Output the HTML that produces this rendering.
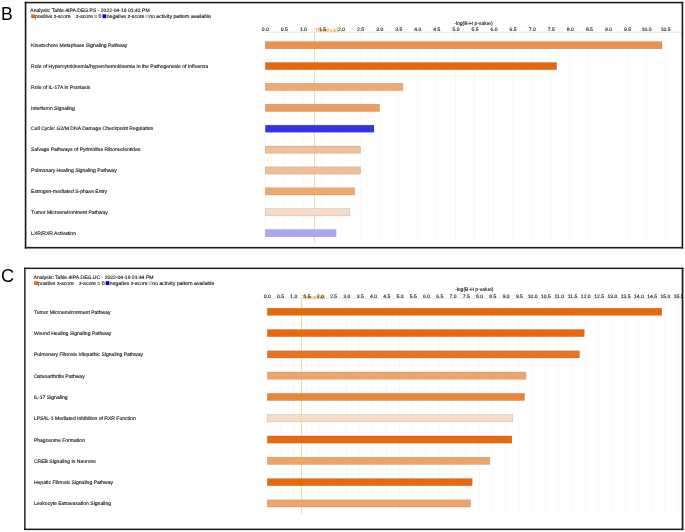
<!DOCTYPE html>
<html><head><meta charset="utf-8"><title>IPA canonical pathways</title><style>
html,body{margin:0;padding:0;background:#fff;width:685px;height:532px;overflow:hidden}
body{position:relative;font-family:'Liberation Sans', sans-serif}
#wrap{position:absolute;left:0;top:0;width:685px;height:532px;will-change:transform;background:#fff}
#wrap div{position:absolute}
#wrap svg{position:absolute;left:0;top:0}
.big{font-size:17.7px;line-height:1;color:#000}
.t{font-size:5.06px;line-height:6px;white-space:nowrap;text-rendering:geometricPrecision;color:#181818;-webkit-text-stroke:0.13px #181818}
.leg{font-size:5.15px}
.tk{width:20px;text-align:center;color:#2a2a2a;-webkit-text-stroke:0.15px #2a2a2a}
.thrt{color:#f4a838;-webkit-text-stroke:0.15px #f4a838;font-size:5.2px}
</style></head>
<body>
<div id="wrap">
<svg width="685" height="532" viewBox="0 0 685 532">
<rect x="31.10" y="14.35" width="3.8" height="3.8" fill="#ea6a08"/>
<rect x="102.50" y="14.35" width="3.7" height="3.8" fill="#0000e6"/>
<rect x="145.10" y="14.35" width="3.9" height="3.8" fill="#cdcdcd"/>
<rect x="264.45" y="32.2" width="0.8" height="210.60" fill="#f7f7f7"/>
<rect x="283.51" y="32.2" width="0.8" height="210.60" fill="#f7f7f7"/>
<rect x="302.58" y="32.2" width="0.8" height="210.60" fill="#f7f7f7"/>
<rect x="321.64" y="32.2" width="0.8" height="210.60" fill="#f7f7f7"/>
<rect x="340.71" y="32.2" width="0.8" height="210.60" fill="#f7f7f7"/>
<rect x="359.77" y="32.2" width="0.8" height="210.60" fill="#f7f7f7"/>
<rect x="378.84" y="32.2" width="0.8" height="210.60" fill="#f7f7f7"/>
<rect x="397.90" y="32.2" width="0.8" height="210.60" fill="#f7f7f7"/>
<rect x="416.97" y="32.2" width="0.8" height="210.60" fill="#f7f7f7"/>
<rect x="436.03" y="32.2" width="0.8" height="210.60" fill="#f7f7f7"/>
<rect x="455.10" y="32.2" width="0.8" height="210.60" fill="#f7f7f7"/>
<rect x="474.16" y="32.2" width="0.8" height="210.60" fill="#f7f7f7"/>
<rect x="493.23" y="32.2" width="0.8" height="210.60" fill="#f7f7f7"/>
<rect x="512.29" y="32.2" width="0.8" height="210.60" fill="#f7f7f7"/>
<rect x="531.36" y="32.2" width="0.8" height="210.60" fill="#f7f7f7"/>
<rect x="550.43" y="32.2" width="0.8" height="210.60" fill="#f7f7f7"/>
<rect x="569.49" y="32.2" width="0.8" height="210.60" fill="#f7f7f7"/>
<rect x="588.55" y="32.2" width="0.8" height="210.60" fill="#f7f7f7"/>
<rect x="607.62" y="32.2" width="0.8" height="210.60" fill="#f7f7f7"/>
<rect x="626.69" y="32.2" width="0.8" height="210.60" fill="#f7f7f7"/>
<rect x="645.75" y="32.2" width="0.8" height="210.60" fill="#f7f7f7"/>
<rect x="664.81" y="32.2" width="0.8" height="210.60" fill="#f7f7f7"/>
<rect x="264.80" y="31.80" width="417.00" height="0.8" fill="#e2e2e2"/>
<rect x="314.07" y="32.20" width="1.0" height="210.60" fill="#f3d8aa"/>
<rect x="265.30" y="41.60" width="396.70" height="7.2" fill="#ee914c" stroke="rgba(100,90,80,0.35)" stroke-width="0.5"/>
<rect x="265.30" y="62.48" width="291.40" height="7.2" fill="#e8660a" stroke="rgba(100,90,80,0.35)" stroke-width="0.5"/>
<rect x="265.30" y="83.36" width="137.60" height="7.2" fill="#f0a870" stroke="rgba(100,90,80,0.35)" stroke-width="0.5"/>
<rect x="265.30" y="104.24" width="114.30" height="7.2" fill="#ee9d5e" stroke="rgba(100,90,80,0.35)" stroke-width="0.5"/>
<rect x="265.30" y="125.12" width="108.70" height="7.2" fill="#3333e6" stroke="rgba(100,90,80,0.35)" stroke-width="0.5"/>
<rect x="265.30" y="146.00" width="95.20" height="7.2" fill="#f3be94" stroke="rgba(100,90,80,0.35)" stroke-width="0.5"/>
<rect x="265.30" y="166.88" width="95.20" height="7.2" fill="#f3be94" stroke="rgba(100,90,80,0.35)" stroke-width="0.5"/>
<rect x="265.30" y="187.76" width="89.30" height="7.2" fill="#f0a86c" stroke="rgba(100,90,80,0.35)" stroke-width="0.5"/>
<rect x="265.30" y="208.64" width="84.60" height="7.2" fill="#f9dcc6" stroke="rgba(100,90,80,0.35)" stroke-width="0.5"/>
<rect x="265.30" y="229.52" width="70.80" height="7.2" fill="#a9a9f2" stroke="rgba(100,90,80,0.35)" stroke-width="0.5"/>
<rect x="34.25" y="281.20" width="3.8" height="3.8" fill="#ea6a08"/>
<rect x="105.65" y="281.20" width="3.7" height="3.8" fill="#0000e6"/>
<rect x="148.25" y="281.20" width="3.9" height="3.8" fill="#cdcdcd"/>
<rect x="266.45" y="298.2" width="0.8" height="216.10" fill="#f7f7f7"/>
<rect x="279.72" y="298.2" width="0.8" height="216.10" fill="#f7f7f7"/>
<rect x="292.99" y="298.2" width="0.8" height="216.10" fill="#f7f7f7"/>
<rect x="306.26" y="298.2" width="0.8" height="216.10" fill="#f7f7f7"/>
<rect x="319.53" y="298.2" width="0.8" height="216.10" fill="#f7f7f7"/>
<rect x="332.80" y="298.2" width="0.8" height="216.10" fill="#f7f7f7"/>
<rect x="346.07" y="298.2" width="0.8" height="216.10" fill="#f7f7f7"/>
<rect x="359.34" y="298.2" width="0.8" height="216.10" fill="#f7f7f7"/>
<rect x="372.61" y="298.2" width="0.8" height="216.10" fill="#f7f7f7"/>
<rect x="385.88" y="298.2" width="0.8" height="216.10" fill="#f7f7f7"/>
<rect x="399.15" y="298.2" width="0.8" height="216.10" fill="#f7f7f7"/>
<rect x="412.42" y="298.2" width="0.8" height="216.10" fill="#f7f7f7"/>
<rect x="425.69" y="298.2" width="0.8" height="216.10" fill="#f7f7f7"/>
<rect x="438.96" y="298.2" width="0.8" height="216.10" fill="#f7f7f7"/>
<rect x="452.23" y="298.2" width="0.8" height="216.10" fill="#f7f7f7"/>
<rect x="465.50" y="298.2" width="0.8" height="216.10" fill="#f7f7f7"/>
<rect x="478.77" y="298.2" width="0.8" height="216.10" fill="#f7f7f7"/>
<rect x="492.04" y="298.2" width="0.8" height="216.10" fill="#f7f7f7"/>
<rect x="505.31" y="298.2" width="0.8" height="216.10" fill="#f7f7f7"/>
<rect x="518.58" y="298.2" width="0.8" height="216.10" fill="#f7f7f7"/>
<rect x="531.85" y="298.2" width="0.8" height="216.10" fill="#f7f7f7"/>
<rect x="545.12" y="298.2" width="0.8" height="216.10" fill="#f7f7f7"/>
<rect x="558.39" y="298.2" width="0.8" height="216.10" fill="#f7f7f7"/>
<rect x="571.66" y="298.2" width="0.8" height="216.10" fill="#f7f7f7"/>
<rect x="584.93" y="298.2" width="0.8" height="216.10" fill="#f7f7f7"/>
<rect x="598.20" y="298.2" width="0.8" height="216.10" fill="#f7f7f7"/>
<rect x="611.47" y="298.2" width="0.8" height="216.10" fill="#f7f7f7"/>
<rect x="624.74" y="298.2" width="0.8" height="216.10" fill="#f7f7f7"/>
<rect x="638.01" y="298.2" width="0.8" height="216.10" fill="#f7f7f7"/>
<rect x="651.28" y="298.2" width="0.8" height="216.10" fill="#f7f7f7"/>
<rect x="664.55" y="298.2" width="0.8" height="216.10" fill="#f7f7f7"/>
<rect x="677.82" y="298.2" width="0.8" height="216.10" fill="#f7f7f7"/>
<rect x="266.80" y="297.80" width="415.00" height="0.8" fill="#e2e2e2"/>
<rect x="301.00" y="298.20" width="1.0" height="216.10" fill="#f3d8aa"/>
<rect x="267.30" y="308.20" width="394.50" height="7.2" fill="#e8680a" stroke="rgba(100,90,80,0.35)" stroke-width="0.5"/>
<rect x="267.30" y="329.49" width="317.00" height="7.2" fill="#e8680a" stroke="rgba(100,90,80,0.35)" stroke-width="0.5"/>
<rect x="267.30" y="350.78" width="312.20" height="7.2" fill="#ea7220" stroke="rgba(100,90,80,0.35)" stroke-width="0.5"/>
<rect x="267.30" y="372.07" width="258.70" height="7.2" fill="#f0a46c" stroke="rgba(100,90,80,0.35)" stroke-width="0.5"/>
<rect x="267.30" y="393.36" width="257.20" height="7.2" fill="#ec8536" stroke="rgba(100,90,80,0.35)" stroke-width="0.5"/>
<rect x="267.30" y="414.65" width="245.50" height="7.2" fill="#f9dcc6" stroke="rgba(100,90,80,0.35)" stroke-width="0.5"/>
<rect x="267.30" y="435.94" width="244.60" height="7.2" fill="#e86a0e" stroke="rgba(100,90,80,0.35)" stroke-width="0.5"/>
<rect x="267.30" y="457.23" width="222.60" height="7.2" fill="#f0a46c" stroke="rgba(100,90,80,0.35)" stroke-width="0.5"/>
<rect x="267.30" y="478.52" width="204.90" height="7.2" fill="#e8680a" stroke="rgba(100,90,80,0.35)" stroke-width="0.5"/>
<rect x="267.30" y="499.81" width="203.40" height="7.2" fill="#f0a46c" stroke="rgba(100,90,80,0.35)" stroke-width="0.5"/>
</svg>
<div class="big" style="left:1.05px;top:6.25px">B</div>
<div class="big" style="left:0.9px;top:266.6px;font-size:18.2px">C</div>
<div style="left:0;top:1px;width:682px;height:531px;overflow:hidden">
<div class="t" style="left:30.3px;top:7.2px">Analysis: Table.4IPA.DEG.PS - 2022-04-19 01:42 PM</div>
<div class="t leg" style="left:34.90px;top:13.30px">positive z-score</div>
<div class="t leg" style="left:75.90px;top:13.30px">z-score = 0</div>
<div class="t leg" style="left:106.70px;top:13.30px">negative z-score</div>
<div class="t leg" style="left:149.20px;top:13.30px">no activity pattern available</div>
<div class="t thrt" style="left:314.87px;top:27.30px">Threshold</div>
<div class="t tk" style="left:255.30px;top:26.3px">0.0</div>
<div class="t tk" style="left:274.37px;top:26.3px">0.5</div>
<div class="t tk" style="left:293.43px;top:26.3px">1.0</div>
<div class="t tk" style="left:312.50px;top:26.3px">1.5</div>
<div class="t tk" style="left:331.56px;top:26.3px">2.0</div>
<div class="t tk" style="left:350.62px;top:26.3px">2.5</div>
<div class="t tk" style="left:369.69px;top:26.3px">3.0</div>
<div class="t tk" style="left:388.75px;top:26.3px">3.5</div>
<div class="t tk" style="left:407.82px;top:26.3px">4.0</div>
<div class="t tk" style="left:426.88px;top:26.3px">4.5</div>
<div class="t tk" style="left:445.95px;top:26.3px">5.0</div>
<div class="t tk" style="left:465.01px;top:26.3px">5.5</div>
<div class="t tk" style="left:484.08px;top:26.3px">6.0</div>
<div class="t tk" style="left:503.14px;top:26.3px">6.5</div>
<div class="t tk" style="left:522.21px;top:26.3px">7.0</div>
<div class="t tk" style="left:541.28px;top:26.3px">7.5</div>
<div class="t tk" style="left:560.34px;top:26.3px">8.0</div>
<div class="t tk" style="left:579.40px;top:26.3px">8.5</div>
<div class="t tk" style="left:598.47px;top:26.3px">9.0</div>
<div class="t tk" style="left:617.54px;top:26.3px">9.5</div>
<div class="t tk" style="left:636.60px;top:26.3px">10.0</div>
<div class="t tk" style="left:655.66px;top:26.3px">10.5</div>
<div class="t" style="left:454.2px;top:19.8px">-log(B-H p-value)</div>
<div class="t lbl" style="left:31.1px;top:42.00px">Kinetochore Metaphase Signaling Pathway</div>
<div class="t lbl" style="left:31.1px;top:62.87px">Role of Hypercytokinemia/hyperchemokinemia in the Pathogenesis of Influenza</div>
<div class="t lbl" style="left:31.1px;top:83.74px">Role of IL-17A in Psoriasis</div>
<div class="t lbl" style="left:31.1px;top:104.61px">Interferon Signaling</div>
<div class="t lbl" style="left:31.1px;top:125.48px">Cell Cycle: G2/M DNA Damage Checkpoint Regulation</div>
<div class="t lbl" style="left:31.1px;top:146.35px">Salvage Pathways of Pyrimidine Ribonucleotides</div>
<div class="t lbl" style="left:31.1px;top:167.22px">Pulmonary Healing Signaling Pathway</div>
<div class="t lbl" style="left:31.1px;top:188.09px">Estrogen-mediated S-phase Entry</div>
<div class="t lbl" style="left:31.1px;top:208.96px">Tumor Microenvironment Pathway</div>
<div class="t lbl" style="left:31.1px;top:229.83px">LXR/RXR Activation</div>
<div class="t" style="left:33.6px;top:273.8px">Analysis: Table.4IPA.DEG.UC - 2022-04-19 01:44 PM</div>
<div class="t leg" style="left:38.05px;top:279.60px">positive z-score</div>
<div class="t leg" style="left:79.05px;top:279.60px">z-score = 0</div>
<div class="t leg" style="left:109.85px;top:279.60px">negative z-score</div>
<div class="t leg" style="left:152.35px;top:279.60px">no activity pattern available</div>
<div class="t thrt" style="left:301.80px;top:293.80px">Threshold</div>
<div class="t tk" style="left:257.30px;top:292.8px">0.0</div>
<div class="t tk" style="left:270.57px;top:292.8px">0.5</div>
<div class="t tk" style="left:283.84px;top:292.8px">1.0</div>
<div class="t tk" style="left:297.11px;top:292.8px">1.5</div>
<div class="t tk" style="left:310.38px;top:292.8px">2.0</div>
<div class="t tk" style="left:323.65px;top:292.8px">2.5</div>
<div class="t tk" style="left:336.92px;top:292.8px">3.0</div>
<div class="t tk" style="left:350.19px;top:292.8px">3.5</div>
<div class="t tk" style="left:363.46px;top:292.8px">4.0</div>
<div class="t tk" style="left:376.73px;top:292.8px">4.5</div>
<div class="t tk" style="left:390.00px;top:292.8px">5.0</div>
<div class="t tk" style="left:403.27px;top:292.8px">5.5</div>
<div class="t tk" style="left:416.54px;top:292.8px">6.0</div>
<div class="t tk" style="left:429.81px;top:292.8px">6.5</div>
<div class="t tk" style="left:443.08px;top:292.8px">7.0</div>
<div class="t tk" style="left:456.35px;top:292.8px">7.5</div>
<div class="t tk" style="left:469.62px;top:292.8px">8.0</div>
<div class="t tk" style="left:482.89px;top:292.8px">8.5</div>
<div class="t tk" style="left:496.16px;top:292.8px">9.0</div>
<div class="t tk" style="left:509.43px;top:292.8px">9.5</div>
<div class="t tk" style="left:522.70px;top:292.8px">10.0</div>
<div class="t tk" style="left:535.97px;top:292.8px">10.5</div>
<div class="t tk" style="left:549.24px;top:292.8px">11.0</div>
<div class="t tk" style="left:562.51px;top:292.8px">11.5</div>
<div class="t tk" style="left:575.78px;top:292.8px">12.0</div>
<div class="t tk" style="left:589.05px;top:292.8px">12.5</div>
<div class="t tk" style="left:602.32px;top:292.8px">13.0</div>
<div class="t tk" style="left:615.59px;top:292.8px">13.5</div>
<div class="t tk" style="left:628.86px;top:292.8px">14.0</div>
<div class="t tk" style="left:642.13px;top:292.8px">14.5</div>
<div class="t tk" style="left:655.40px;top:292.8px">15.0</div>
<div class="t tk" style="left:668.67px;top:292.8px">15.5</div>
<div class="t" style="left:455px;top:286.2px">-log(B-H p-value)</div>
<div class="t lbl" style="left:33.9px;top:308.80px">Tumor Microenvironment Pathway</div>
<div class="t lbl" style="left:33.9px;top:330.09px">Wound Healing Signaling Pathway</div>
<div class="t lbl" style="left:33.9px;top:351.38px">Pulmonary Fibrosis Idiopathic Signaling Pathway</div>
<div class="t lbl" style="left:33.9px;top:372.67px">Osteoarthritis Pathway</div>
<div class="t lbl" style="left:33.9px;top:393.96px">IL-17 Signaling</div>
<div class="t lbl" style="left:33.9px;top:415.25px">LPS/IL-1 Mediated Inhibition of RXR Function</div>
<div class="t lbl" style="left:33.9px;top:436.54px">Phagosome Formation</div>
<div class="t lbl" style="left:33.9px;top:457.83px">CREB Signaling in Neurons</div>
<div class="t lbl" style="left:33.9px;top:479.12px">Hepatic Fibrosis Signaling Pathway</div>
<div class="t lbl" style="left:33.9px;top:500.41px">Leukocyte Extravasation Signaling</div>
</div>
<svg width="685" height="532" viewBox="0 0 685 532">
<rect x="24.750" y="1.800" width="658.450" height="1.55" fill="#1a1a1a"/>
<rect x="24.750" y="246.900" width="658.450" height="1.6" fill="#1a1a1a"/>
<rect x="24.750" y="1.800" width="1.65" height="246.700" fill="#1a1a1a"/>
<rect x="681.600" y="1.800" width="1.6" height="246.700" fill="#1a1a1a"/>
<rect x="24.150" y="267.625" width="659.250" height="1.45" fill="#1a1a1a"/>
<rect x="24.150" y="528.600" width="659.250" height="1.5" fill="#1a1a1a"/>
<rect x="24.150" y="267.625" width="1.4" height="262.475" fill="#1a1a1a"/>
<rect x="681.700" y="267.625" width="1.7" height="262.475" fill="#1a1a1a"/>
</svg>
</div>
</body></html>
